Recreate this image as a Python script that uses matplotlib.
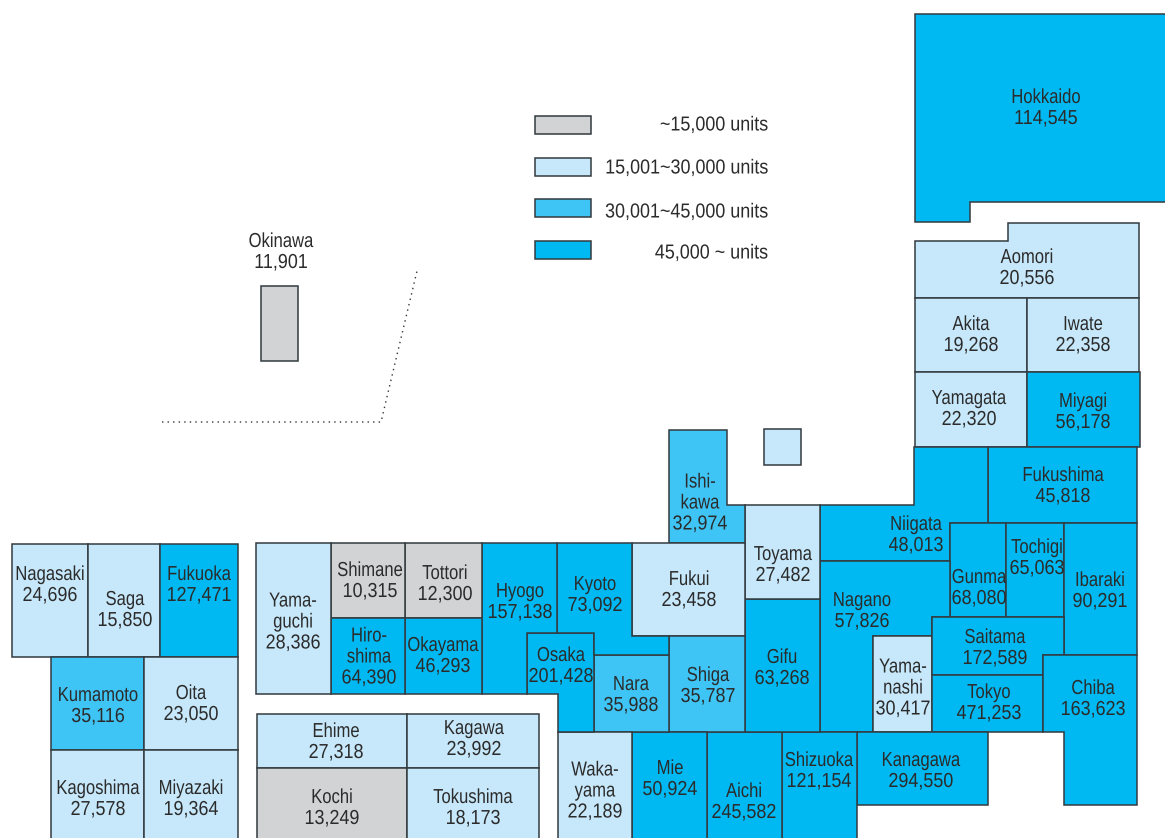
import matplotlib
matplotlib.use('Agg')
import matplotlib.pyplot as plt
from matplotlib.patches import Polygon, Rectangle
from matplotlib.patheffects import AbstractPathEffect
from matplotlib.transforms import Affine2D

# prefecture data
names = ['Hokkaido', 'Aomori', 'Akita', 'Iwate', 'Yamagata', 'Miyagi', 'Fukushima', 'Niigata',
         'Gunma', 'Tochigi', 'Ibaraki', 'Nagano', 'Yama-\nnashi', 'Saitama', 'Tokyo', 'Chiba',
         'Kanagawa', 'Shizuoka', 'Aichi', 'Gifu', 'Toyama', 'Ishi-\nkawa', 'Fukui', 'Shiga',
         'Mie', 'Nara', 'Waka-\nyama', 'Osaka', 'Kyoto', 'Hyogo', 'Tottori', 'Shimane',
         'Okayama', 'Hiro-\nshima', 'Yama-\nguchi', 'Ehime', 'Kagawa', 'Kochi', 'Tokushima',
         'Nagasaki', 'Saga', 'Fukuoka', 'Kumamoto', 'Oita', 'Kagoshima', 'Miyazaki', 'Okinawa']
units = [114545, 20556, 19268, 22358, 22320, 56178, 45818, 48013,
         68080, 65063, 90291, 57826, 30417, 172589, 471253, 163623,
         294550, 121154, 245582, 63268, 27482, 32974, 23458, 35787,
         50924, 35988, 22189, 201428, 73092, 157138, 12300, 10315,
         46293, 64390, 28386, 27318, 23992, 13249, 18173,
         24696, 15850, 127471, 35116, 23050, 27578, 19364, 11901]
# legend band as printed on the map (0 = lowest)
bands = [3, 1, 1, 1, 1, 3, 3, 3,
         3, 3, 3, 3, 1, 3, 3, 3,
         3, 3, 3, 3, 1, 2, 1, 2,
         3, 2, 1, 3, 3, 3, 0, 0,
         3, 3, 1, 1, 1, 0, 1,
         1, 1, 3, 2, 1, 1, 1, 0]
legend_labels = ['~15,000 units', '15,001~30,000 units', '30,001~45,000 units', '45,000 ~ units']
band_colors = ['#D1D3D4', '#C7E8FA', '#3EC5F5', '#00B9F2']

# tile outlines in picture pixels, same order as names
outlines = [
    [(915, 14), (1175, 14), (1175, 202), (970, 202), (970, 222), (915, 222)],
    [(915, 241), (1008, 241), (1008, 223), (1139, 223), (1139, 298), (915, 298)],
    [(915, 298), (1027, 298), (1027, 372), (915, 372)],
    [(1027, 298), (1139, 298), (1139, 372), (1027, 372)],
    [(915, 372), (1027, 372), (1027, 447), (915, 447)],
    [(1027, 372), (1140, 372), (1140, 447), (1027, 447)],
    [(988, 447), (1137, 447), (1137, 523), (988, 523)],
    [(914, 447), (988, 447), (988, 523), (950, 523), (950, 561), (820, 561), (820, 505), (914, 505)],
    [(950, 523), (1006, 523), (1006, 617), (950, 617)],
    [(1006, 523), (1064, 523), (1064, 617), (1006, 617)],
    [(1064, 523), (1137, 523), (1137, 655), (1064, 655)],
    [(820, 561), (950, 561), (950, 617), (932, 617), (932, 636), (873, 636), (873, 732), (820, 732)],
    [(873, 636), (932, 636), (932, 732), (873, 732)],
    [(932, 617), (1064, 617), (1064, 655), (1043, 655), (1043, 675), (932, 675)],
    [(932, 675), (1043, 675), (1043, 732), (932, 732)],
    [(1043, 655), (1137, 655), (1137, 805), (1064, 805), (1064, 732), (1043, 732)],
    [(857, 732), (988, 732), (988, 805), (857, 805)],
    [(782, 732), (857, 732), (857, 850), (782, 850)],
    [(707, 732), (782, 732), (782, 850), (707, 850)],
    [(745, 599), (820, 599), (820, 732), (745, 732)],
    [(745, 505), (820, 505), (820, 599), (745, 599)],
    [(669, 430), (727, 430), (727, 505), (745, 505), (745, 543), (669, 543)],
    [(632, 543), (745, 543), (745, 636), (632, 636)],
    [(669, 636), (745, 636), (745, 732), (669, 732)],
    [(632, 732), (707, 732), (707, 850), (632, 850)],
    [(594, 655), (669, 655), (669, 732), (594, 732)],
    [(558, 732), (632, 732), (632, 850), (558, 850)],
    [(527, 633), (594, 633), (594, 732), (558, 732), (558, 694), (527, 694)],
    [(557, 543), (632, 543), (632, 636), (669, 636), (669, 655), (594, 655), (594, 633), (557, 633)],
    [(482, 543), (557, 543), (557, 633), (527, 633), (527, 694), (482, 694)],
    [(405, 543), (482, 543), (482, 618), (405, 618)],
    [(331, 543), (405, 543), (405, 618), (331, 618)],
    [(405, 618), (482, 618), (482, 694), (405, 694)],
    [(331, 618), (405, 618), (405, 694), (331, 694)],
    [(256, 543), (331, 543), (331, 694), (256, 694)],
    [(257, 714), (407, 714), (407, 768), (257, 768)],
    [(407, 714), (539, 714), (539, 768), (407, 768)],
    [(257, 768), (407, 768), (407, 850), (257, 850)],
    [(407, 768), (539, 768), (539, 850), (407, 850)],
    [(12, 544), (88, 544), (88, 657), (12, 657)],
    [(88, 544), (160, 544), (160, 657), (88, 657)],
    [(160, 544), (238, 544), (238, 657), (160, 657)],
    [(51, 657), (144, 657), (144, 750), (51, 750)],
    [(144, 657), (238, 657), (238, 750), (144, 750)],
    [(51, 750), (144, 750), (144, 850), (51, 850)],
    [(144, 750), (238, 750), (238, 850), (144, 850)],
    [(261, 286), (298, 286), (298, 361), (261, 361)],
]
# label centres in picture pixels, same order as names
label_x = [1046, 1027, 971, 1083, 969, 1083, 1063, 916,
           979, 1037, 1100, 862, 903, 995, 989, 1093,
           921, 819, 744, 782, 783, 700, 689, 708,
           670, 631, 595, 561, 595, 520, 445, 370,
           443, 369, 293, 336, 474, 332, 473,
           50, 125, 199, 98, 191, 98, 191, 281]
label_y = [108, 268, 335, 335, 409, 412, 486, 535,
           588, 558, 591, 611, 688, 648, 703, 699,
           771, 771, 802, 668, 565, 503, 590, 686,
           779, 695, 791, 666, 595, 602, 584, 581,
           656, 657, 622, 742, 739, 808, 808,
           585, 610, 585, 706, 704, 799, 799, 252]

legend_top = [116, 158, 199, 241]
legend_text_y = [125, 168, 212, 253]

edge = '#333b40'
text_color = '#2b2b2b'
font_size = 14.6
line_step = 21
name_narrow = 0.82
number_narrow = 0.885

plt.rcParams['font.family'] = ['Liberation Sans', 'DejaVu Sans']


# the reference type is a condensed face, no such face here so squeeze the glyphs
class Squeeze(AbstractPathEffect):
    def __init__(self, anchor_x, factor):
        super().__init__()
        self.anchor_x = anchor_x
        self.factor = factor

    def draw_path(self, renderer, gc, tpath, affine, rgbFace=None):
        squeeze = Affine2D().translate(-self.anchor_x, 0).scale(self.factor, 1).translate(self.anchor_x, 0)
        renderer.draw_path(gc, tpath, affine + squeeze, rgbFace)


def put_text(ax, x, y, label, ha, factor):
    anchor_x = ax.transData.transform((x, y))[0]
    ax.text(x, y, label, ha=ha, va='center', fontsize=font_size, color=text_color,
            path_effects=[Squeeze(anchor_x, factor)])


fig = plt.figure(figsize=(11.65, 8.38), dpi=100)
ax = fig.add_axes([0, 0, 1, 1])
ax.set_xlim(0, 1165)
ax.set_ylim(838, 0)
ax.axis('off')

# tiles
for outline, band in zip(outlines, bands):
    ax.add_patch(Polygon(outline, closed=True, facecolor=band_colors[band], edgecolor=edge, linewidth=1.1))

# Sado island has no label of its own
ax.add_patch(Rectangle((764, 429), 37, 36, facecolor=band_colors[1], edgecolor=edge, linewidth=1.1))

# name lines and the number above each other, the number runs a bit wider
for name, value, x, y in zip(names, units, label_x, label_y):
    lines = name.split('\n')
    top = y - line_step * len(lines) / 2
    for i, line in enumerate(lines):
        put_text(ax, x, top + i * line_step, line, 'center', name_narrow)
    put_text(ax, x, top + len(lines) * line_step, f'{value:,}', 'center', number_narrow)

# dotted leader around Okinawa
ax.plot([162, 381, 417], [422, 422, 271], color='#333333', linewidth=1.0, linestyle=(0, (1, 3)))

# legend
for top, text_y, color, label in zip(legend_top, legend_text_y, band_colors, legend_labels):
    ax.add_patch(Rectangle((535, top), 56, 18, facecolor=color, edgecolor=edge, linewidth=1.1))
    put_text(ax, 768, text_y, label, 'right', number_narrow)

fig.savefig('out.png', dpi=100)
